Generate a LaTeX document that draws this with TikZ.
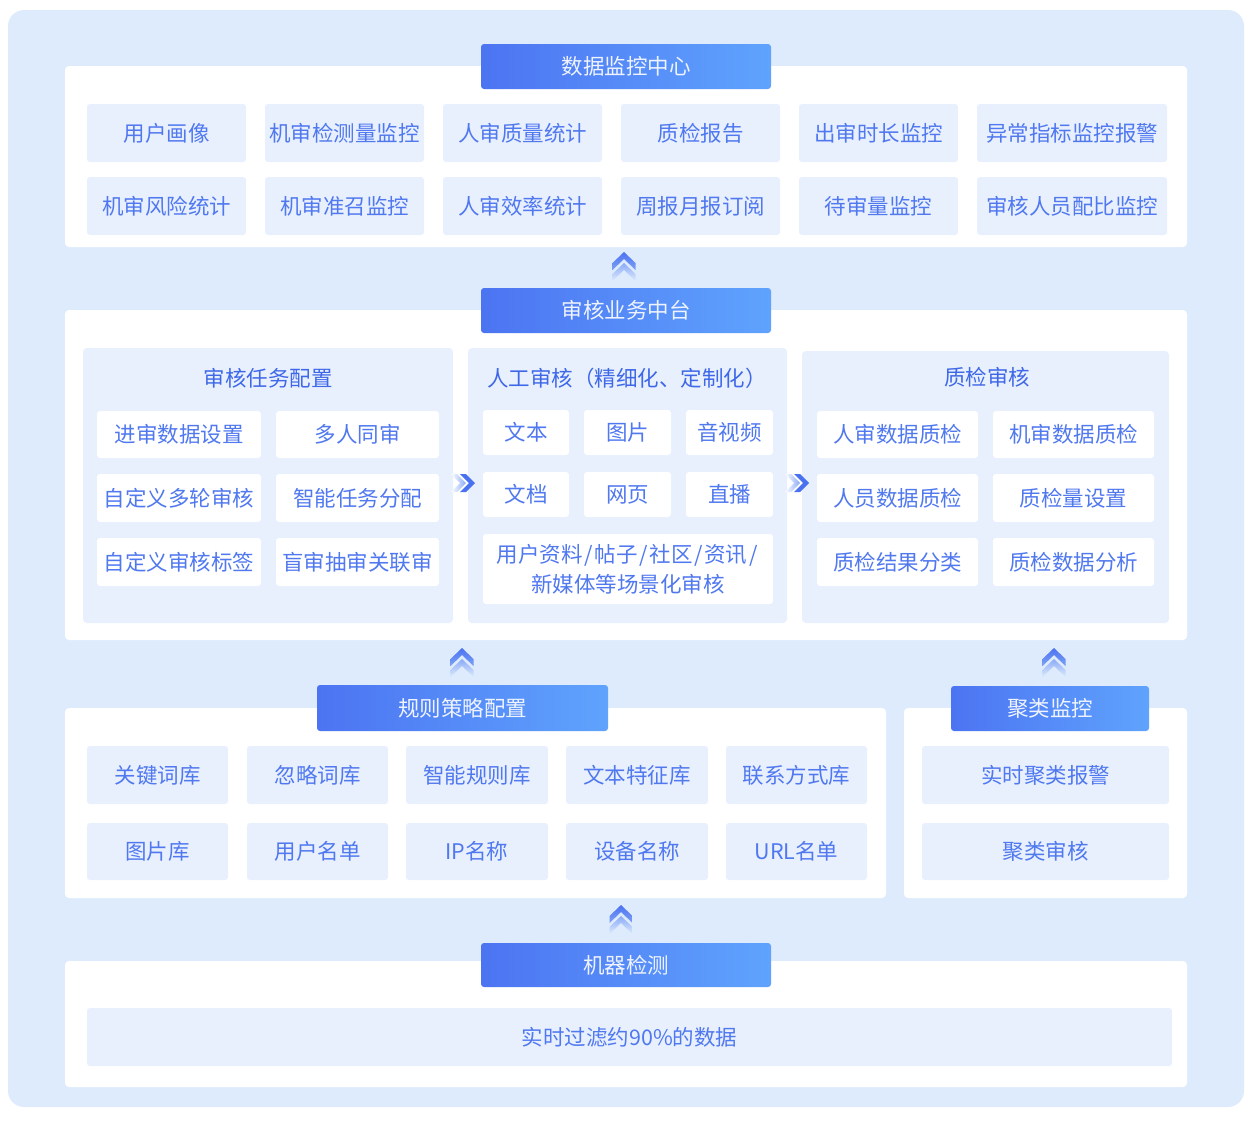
\documentclass[tikz,border=0pt]{standalone}
\usepackage{fontspec}
\setmainfont{Noto Sans CJK SC}
\definecolor{bgb}{HTML}{DEEBFD}
\definecolor{boxb}{HTML}{E8F0FE}
\definecolor{txtc}{HTML}{5078EF}
\definecolor{ttlc}{HTML}{3F68E8}
\definecolor{hdrA}{HTML}{4C74F2}
\definecolor{hdrB}{HTML}{5FA3FD}
\definecolor{hdrtxt}{HTML}{EEF3FF}
\definecolor{chevA}{HTML}{4A72F0}
\definecolor{chevB}{HTML}{7FA2F6}
\definecolor{chevC}{HTML}{8AAAF6}
\tikzset{
 base/.style={inner sep=0pt, outer sep=0pt, align=center, font=\fontsize{21.5}{30}\selectfont},
 bgpanel/.style={base, fill=bgb, rounded corners=16pt},
 panel/.style={base, fill=white, rounded corners=4pt},
 subpanel/.style={base, fill=boxb, rounded corners=4pt},
 item/.style={base, fill=boxb, rounded corners=3pt, text=txtc},
 witem/.style={base, fill=white, rounded corners=3pt, text=txtc},
 hdr/.style={base, left color=hdrA, right color=hdrB, rounded corners=3pt, text=hdrtxt},
 ttl/.style={base, text=ttlc},
}
\newcommand\bx[7]{\node[#1, minimum width={#5-#3}, minimum height={#6-#4}] (#2) at ({(#3+#5)/2},{(#4+#6)/2}) {#7};}
\newcommand\myslash{\kern1.7pt/\kern1.7pt}
\newcommand\upchev[2]{%
 \shade[top color=chevA, bottom color=chevB] (#1-11.5,#2+11) -- (#1,#2) -- (#1+11.5,#2+11) -- (#1+11.5,#2+18) -- (#1,#2+7) -- (#1-11.5,#2+18) -- cycle;
 \shade[top color=chevC, bottom color=bgb] (#1-11.5,#2+22) -- (#1,#2+11) -- (#1+11.5,#2+22) -- (#1+11.5,#2+29) -- (#1,#2+18) -- (#1-11.5,#2+29) -- cycle;
}
\newcommand\rtchev[2]{%
 \shade[left color=white, right color=chevC] (#1-18,#2-9) -- (#1-9,#2) -- (#1-18,#2+9) -- (#1-24,#2+9) -- (#1-15,#2) -- (#1-24,#2-9) -- cycle;
 \fill[chevA] (#1-9,#2-9) -- (#1,#2) -- (#1-9,#2+9) -- (#1-15,#2+9) -- (#1-6,#2) -- (#1-15,#2-9) -- cycle;
}
\begin{document}
\begin{tikzpicture}[x=1pt,y=-1pt]
\useasboundingbox (0,0) rectangle (1252,1120);
\bx{bgpanel}{bg}{8}{10}{1244}{1107}{}
% ---------- top: data monitoring
\bx{panel}{p1}{65}{66}{1187}{247}{}
\bx{hdr}{h1}{481}{44}{771}{89}{数据监控中心}
\bx{item}{a1}{87}{104}{246}{162}{用户画像}
\bx{item}{a2}{265}{104}{424}{162}{机审检测量监控}
\bx{item}{a3}{443}{104}{602}{162}{人审质量统计}
\bx{item}{a4}{621}{104}{780}{162}{质检报告}
\bx{item}{a5}{799}{104}{958}{162}{出审时长监控}
\bx{item}{a6}{977}{104}{1167}{162}{异常指标监控报警}
\bx{item}{b1}{87}{177}{246}{235}{机审风险统计}
\bx{item}{b2}{265}{177}{424}{235}{机审准召监控}
\bx{item}{b3}{443}{177}{602}{235}{人审效率统计}
\bx{item}{b4}{621}{177}{780}{235}{周报月报订阅}
\bx{item}{b5}{799}{177}{958}{235}{待审量监控}
\bx{item}{b6}{977}{177}{1167}{235}{审核人员配比监控}
\upchev{624}{252}
% ---------- middle
\bx{panel}{p2}{65}{310}{1187}{640}{}
\bx{hdr}{h2}{481}{288}{771}{333}{审核业务中台}
\bx{subpanel}{s1}{83}{348}{453}{623}{}
\bx{subpanel}{s2}{468}{348}{787}{623}{}
\bx{subpanel}{s3}{802}{351}{1169}{623}{}
\node[ttl] (t1) at (268,378) {审核任务配置};
\node[ttl] (t2) at (627,378) {人工审核（精细化、定制化）};
\node[ttl] (t3) at (987,377) {质检审核};
\bx{witem}{c1}{97}{411}{261}{458}{进审数据设置}
\bx{witem}{c2}{276}{411}{439}{458}{多人同审}
\bx{witem}{c3}{97}{474}{261}{522}{自定义多轮审核}
\bx{witem}{c4}{276}{474}{439}{522}{智能任务分配}
\bx{witem}{c5}{97}{538}{261}{586}{自定义审核标签}
\bx{witem}{c6}{276}{538}{439}{586}{盲审抽审关联审}
\bx{witem}{d1}{483}{410}{569}{455}{文本}
\bx{witem}{d2}{584}{410}{671}{455}{图片}
\bx{witem}{d3}{686}{410}{773}{455}{音视频}
\bx{witem}{d4}{483}{472}{569}{517}{文档}
\bx{witem}{d5}{584}{472}{671}{517}{网页}
\bx{witem}{d6}{686}{472}{773}{517}{直播}
\bx{witem}{d7}{483}{534}{773}{604}{用户资料\myslash 帖子\myslash 社区\myslash 资讯\myslash\\新媒体等场景化审核}
\bx{witem}{e1}{817}{411}{978}{458}{人审数据质检}
\bx{witem}{e2}{993}{411}{1154}{458}{机审数据质检}
\bx{witem}{e3}{817}{474}{978}{522}{人员数据质检}
\bx{witem}{e4}{993}{474}{1154}{522}{质检量设置}
\bx{witem}{e5}{817}{538}{978}{586}{质检结果分类}
\bx{witem}{e6}{993}{538}{1154}{586}{质检数据分析}
\rtchev{475}{483}
\rtchev{809}{483}
\upchev{462}{648}
\upchev{1054}{648}
% ---------- rules
\bx{panel}{p3}{65}{708}{886}{898}{}
\bx{hdr}{h3}{317}{685}{608}{731}{规则策略配置}
\bx{item}{f1}{87}{746}{228}{804}{关键词库}
\bx{item}{f2}{247}{746}{388}{804}{忽略词库}
\bx{item}{f3}{406}{746}{548}{804}{智能规则库}
\bx{item}{f4}{566}{746}{708}{804}{文本特征库}
\bx{item}{f5}{726}{746}{867}{804}{联系方式库}
\bx{item}{g1}{87}{823}{228}{880}{图片库}
\bx{item}{g2}{247}{823}{388}{880}{用户名单}
\bx{item}{g3}{406}{823}{548}{880}{IP名称}
\bx{item}{g4}{566}{823}{708}{880}{设备名称}
\bx{item}{g5}{726}{823}{867}{880}{URL名单}
% ---------- cluster
\bx{panel}{p4}{904}{708}{1187}{898}{}
\bx{hdr}{h4}{951}{686}{1149}{731}{聚类监控}
\bx{item}{k1}{922}{746}{1169}{804}{实时聚类报警}
\bx{item}{k2}{922}{823}{1169}{880}{聚类审核}
\upchev{621}{905}
% ---------- machine detection
\bx{panel}{p5}{65}{961}{1187}{1087}{}
\bx{hdr}{h5}{481}{943}{771}{987}{机器检测}
\bx{item}{m1}{87}{1008}{1172}{1066}{实时过滤约90\%的数据}
\end{tikzpicture}
\end{document}
